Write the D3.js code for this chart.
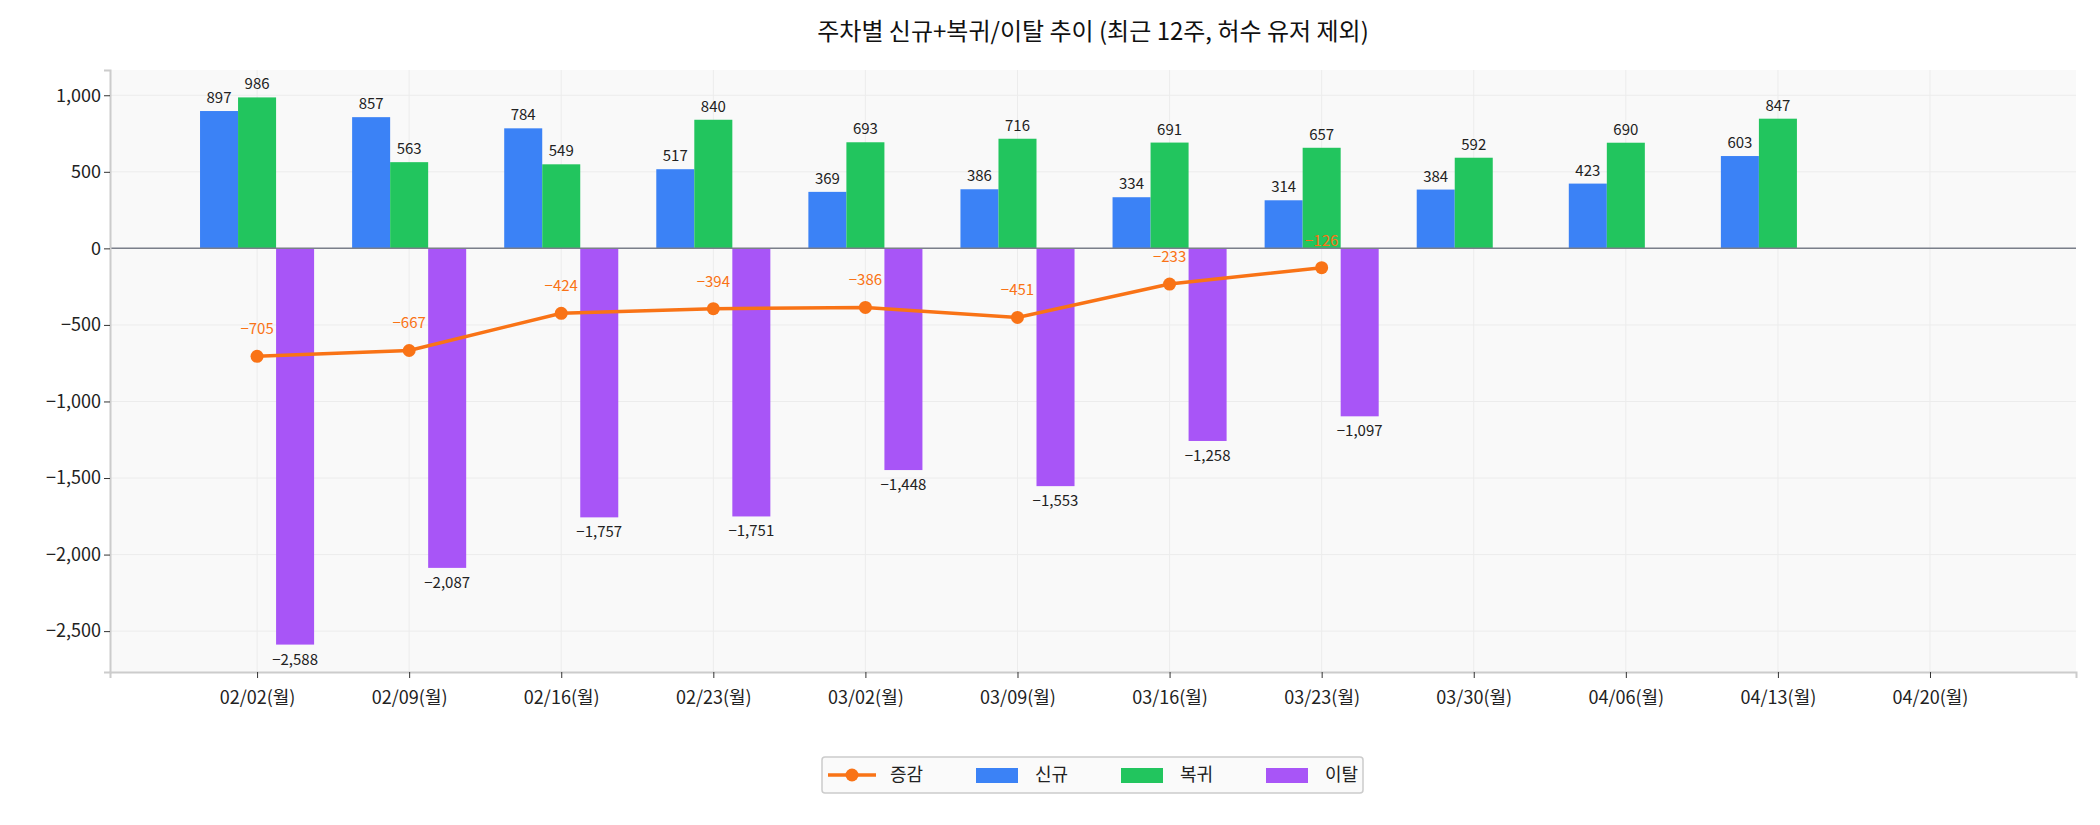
<!DOCTYPE html>
<html><head><meta charset="utf-8">
<script src="https://cdn.jsdelivr.net/npm/d3@7"></script>
<style>
body { margin: 0; background: #fff; font-family: "Noto Sans CJK KR", "Noto Sans", sans-serif; }
</style></head>
<body><div id="chart"></div>
<script>
const W = 2100, H = 825;
const margin = { top: 70, right: 24, bottom: 153, left: 110 };
const width = W - margin.left - margin.right;
const height = H - margin.top - margin.bottom;

const weeks = ['02/02(월)', '02/09(월)', '02/16(월)', '02/23(월)', '03/02(월)', '03/09(월)',
  '03/16(월)', '03/23(월)', '03/30(월)', '04/06(월)', '04/13(월)', '04/20(월)'];
const newUsers = [897, 857, 784, 517, 369, 386, 334, 314, 384, 423, 603, null];
const returned = [986, 563, 549, 840, 693, 716, 691, 657, 592, 690, 847, null];
const churned = [-2588, -2087, -1757, -1751, -1448, -1553, -1258, -1097, null, null, null, null];
const net = [-705, -667, -424, -394, -386, -451, -233, -126, null, null, null, null];

const data = weeks.map((w, i) => ({ i, w, n: newUsers[i], r: returned[i], c: churned[i], d: net[i] }));
const colors = { n: '#3b82f6', r: '#22c55e', c: '#a855f7', d: '#f97316' };
const fmt = d3.format(',');

const svg = d3.select('#chart').append('svg').attr('width', W).attr('height', H);
const g = svg.append('g').attr('transform', `translate(${margin.left},${margin.top})`);

const x = d3.scaleLinear().domain([-0.967, 11.96]).range([0, width]);
const y = d3.scaleLinear().domain([-2767, 1165]).range([height, 0]);
const bw = x(0.25) - x(0);

g.append('rect').attr('width', width).attr('height', height).attr('fill', '#f9f9f9');

// grid
g.append('g').selectAll('line').data(y.ticks(8)).join('line')
  .attr('x1', 0).attr('x2', width).attr('y1', d => y(d)).attr('y2', d => y(d))
  .attr('stroke', '#ececec');
g.append('g').selectAll('line').data(d3.range(12)).join('line')
  .attr('x1', d => x(d)).attr('x2', d => x(d)).attr('y1', 0).attr('y2', height)
  .attr('stroke', '#ececec');

// bars
const series = [['n', -0.25], ['r', 0], ['c', 0.25]];
series.forEach(([k, off]) => {
  const vals = data.filter(d => d[k] != null);
  g.append('g').selectAll('rect').data(vals).join('rect')
    .attr('x', d => x(d.i + off) - bw / 2)
    .attr('width', bw)
    .attr('y', d => y(Math.max(0, d[k])))
    .attr('height', d => Math.abs(y(d[k]) - y(0)))
    .attr('fill', colors[k]);
  g.append('g').selectAll('text').data(vals).join('text')
    .attr('x', d => x(d.i + off))
    .attr('y', d => d[k] >= 0 ? y(d[k]) - 8 : y(d[k]) + 20)
    .attr('text-anchor', 'middle')
    .style('font-size', '15px').attr('fill', '#222')
    .text(d => fmt(d[k]));
});

// zero line
g.append('line').attr('x1', 0).attr('x2', width).attr('y1', y(0)).attr('y2', y(0))
  .attr('stroke', '#7a7f8a').attr('stroke-width', 1.5);

// net line
const netData = data.filter(d => d.d != null);
g.append('path').datum(netData)
  .attr('fill', 'none').attr('stroke', colors.d).attr('stroke-width', 3.5)
  .attr('d', d3.line().x(d => x(d.i)).y(d => y(d.d)));
g.append('g').selectAll('circle').data(netData).join('circle')
  .attr('cx', d => x(d.i)).attr('cy', d => y(d.d)).attr('r', 6.5).attr('fill', colors.d);
g.append('g').selectAll('text').data(netData).join('text')
  .attr('x', d => x(d.i)).attr('y', d => y(d.d) - 22)
  .attr('text-anchor', 'middle').style('font-size', '15px').attr('fill', colors.d)
  .text(d => fmt(d.d));

// axes
const yAxis = g.append('g').call(d3.axisLeft(y).tickValues(d3.range(-2500, 1001, 500)).tickFormat(fmt).tickSize(6));
const xAxis = g.append('g').attr('transform', `translate(0,${height})`)
  .call(d3.axisBottom(x).tickValues(d3.range(12)).tickFormat(i => weeks[i]).tickSize(6));
[yAxis, xAxis].forEach(a => {
  a.select('.domain').attr('stroke', '#cccccc').attr('stroke-width', 2);
  a.selectAll('.tick line').attr('stroke', '#333');
  a.selectAll('.tick text').style('font-size', '18px').attr('fill', '#222')
    .style('font-family', '"Noto Sans CJK KR", sans-serif');
});
xAxis.selectAll('.tick text').attr('dy', '1.3em');

// title
svg.append('text').attr('x', margin.left + width / 2).attr('y', 40)
  .attr('text-anchor', 'middle').style('font-size', '24px').attr('fill', '#111')
  .text('주차별 신규+복귀/이탈 추이 (최근 12주, 허수 유저 제외)');

// legend
const lg = svg.append('g').attr('transform', 'translate(822,757)');
lg.append('rect').attr('width', 541).attr('height', 36).attr('rx', 3)
  .attr('fill', '#fafafa').attr('stroke', '#cccccc').attr('stroke-width', 1.5);
const items = [['증감', 'd'], ['신규', 'n'], ['복귀', 'r'], ['이탈', 'c']];
items.forEach(([label, k], i) => {
  const ig = lg.append('g').attr('transform', `translate(${6 + i * 145},18)`);
  if (k === 'd') {
    ig.append('line').attr('x1', 0).attr('x2', 48).attr('stroke', colors.d).attr('stroke-width', 3.5);
    ig.append('circle').attr('cx', 24).attr('r', 6.5).attr('fill', colors.d);
  } else {
    ig.append('rect').attr('x', 3).attr('y', -7).attr('width', 42).attr('height', 15).attr('fill', colors[k]);
  }
  ig.append('text').attr('x', 62).attr('y', 6).style('font-size', '18px').attr('fill', '#222').text(label);
});
</script>
</body></html>
